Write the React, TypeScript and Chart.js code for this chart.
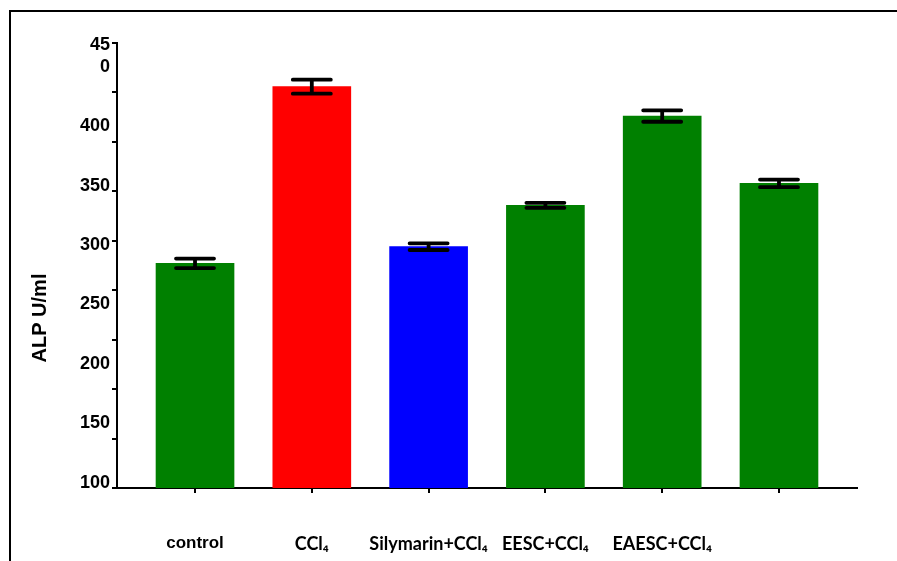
import React, { useEffect, useRef } from "react";
import { Chart, registerables } from "chart.js";

Chart.register(...registerables);

const categories = ["control", "CCl₄", "Silymarin+CCl₄", "EESC+CCl₄", "EAESC+CCl₄", ""];
const means = [284.7, 433.4, 298.7, 333.5, 408.7, 352.0];
const sems = [4.0, 5.9, 2.8, 2.1, 4.8, 3.2];
const barColors = ["#008000", "#ff0000", "#0000ff", "#008000", "#008000", "#008000"];
const labelTicks = [100, 150, 200, 250, 300, 350, 400, 450];
const yTitle = "ALP U/ml";

const errorBars = {
  id: "errorBars",
  afterDatasetsDraw(chart: any) {
    const meta = chart.getDatasetMeta(0);
    const ys = chart.scales.yLab;
    const ctx = chart.ctx;
    ctx.save();
    ctx.strokeStyle = "#000";
    ctx.lineWidth = 3.8;
    ctx.lineCap = "round";
    meta.data.forEach((el: any, i: number) => {
      const x = el.x;
      const yTop = ys.getPixelForValue(means[i] + sems[i]);
      const yBot = ys.getPixelForValue(means[i] - sems[i]);
      ctx.beginPath();
      ctx.moveTo(x, yTop);
      ctx.lineTo(x, yBot);
      ctx.moveTo(x - 19, yTop);
      ctx.lineTo(x + 19, yTop);
      ctx.moveTo(x - 19, yBot);
      ctx.lineTo(x + 19, yBot);
      ctx.stroke();
    });
    ctx.restore();
  },
};

const titlePlugin = {
  id: "yTitle",
  afterDraw(chart: any) {
    const ctx = chart.ctx;
    const a = chart.chartArea;
    ctx.save();
    ctx.translate(40, a.top + (a.bottom - a.top) * 0.618);
    ctx.rotate(-Math.PI / 2);
    ctx.font = "bold 20px 'Liberation Sans', Arial, sans-serif";
    ctx.fillStyle = "#000";
    ctx.textAlign = "center";
    ctx.textBaseline = "middle";
    ctx.fillText(yTitle, 0, 0);
    ctx.restore();
  },
};

export default function App() {
  const ref = useRef<HTMLCanvasElement>(null);
  useEffect(() => {
    if (!ref.current) return;
    const chart = new Chart(ref.current, {
      type: "bar",
      data: {
        datasets: [
          {
            data: means.map((v, i) => ({ x: i, y: v })),
            backgroundColor: barColors,
            borderWidth: 0,
            barThickness: 78,
            yAxisID: "yLab",
          },
        ],
      },
      options: {
        responsive: false,
        animation: false,
        layout: { padding: { left: 0, top: 43, right: 40, bottom: 0 } },
        plugins: { legend: { display: false }, tooltip: { enabled: false } },
        scales: {
          x: {
            type: "linear",
            min: -0.668,
            max: 5.668,
            offset: false,
            z: 1,
            grid: { offset: false, drawOnChartArea: false, drawTicks: true, tickLength: 5, color: "#000", lineWidth: 2 },
            border: { display: true, color: "#000", width: 2 },
            ticks: {
              stepSize: 1,
              includeBounds: false,
              autoSkip: false,
              maxRotation: 0,
              padding: 40,
              color: "#000",
              font: (c: any) =>
                c.index === 0
                  ? { family: "'Liberation Sans', Arial, sans-serif", size: 17, weight: "bold" }
                  : { family: "Lato, sans-serif", size: 18, weight: "bold" },
              callback: (v: any) => (Number.isInteger(v) ? categories[v] ?? "" : ""),
            },
            afterFit: (s: any) => {
              s.height = 73;
              s.paddingLeft = 0;
              s.paddingRight = 0;
            },
          },
          y: {
            type: "linear",
            position: "left",
            weight: 0,
            min: 0,
            max: 450,
            grid: { drawOnChartArea: false, drawTicks: true, tickLength: 5, color: "#000", lineWidth: 2 },
            border: { display: true, color: "#000", width: 2 },
            ticks: { display: false, stepSize: 50, autoSkip: false },
            afterFit: (s: any) => {
              s.width = 5;
              s.paddingTop = 0;
              s.paddingBottom = 0;
            },
          },
          yLab: {
            type: "linear",
            position: "left",
            weight: 10,
            min: 95.5,
            max: 470.2,
            grid: { display: false, drawTicks: false },
            border: { display: false },
            ticks: {
              includeBounds: false,
              autoSkip: false,
              stepSize: 50,
              padding: 2,
              color: "#000",
              font: { family: "'Liberation Sans', Arial, sans-serif", size: 18, weight: "bold", lineHeight: 1.222 },
              callback: (v: any) =>
                labelTicks.includes(v) ? (v === 450 ? ["45", "0", ""] : String(v)) : "",
            },
            afterFit: (s: any) => {
              s.width = 112;
              s.paddingTop = 0;
              s.paddingBottom = 0;
            },
          },
        },
      },
      plugins: [errorBars, titlePlugin],
    });
    return () => chart.destroy();
  }, []);

  return (
    <>
      <div
        style={{
          position: "fixed",
          left: 9,
          top: 10,
          right: 0,
          bottom: 0,
          borderLeft: "2px solid #000",
          borderTop: "2px solid #000",
        }}
      />
      <canvas
        ref={ref}
        width={897}
        height={561}
        style={{ position: "fixed", left: 0, top: 0, width: 897, height: 561 }}
      />
    </>
  );
}
